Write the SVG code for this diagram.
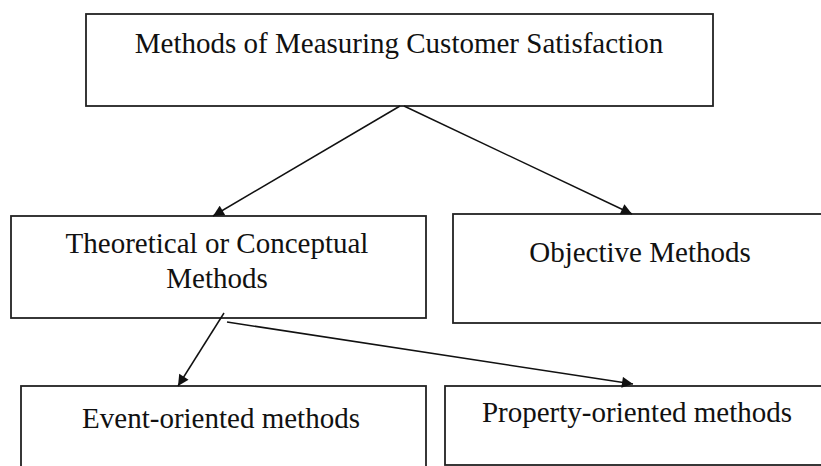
<svg xmlns="http://www.w3.org/2000/svg" width="821" height="466" viewBox="0 0 821 466">
<style>
.box{fill:#fff;stroke:#222;stroke-width:1.8}
.t{font-family:"Liberation Serif","Times New Roman",serif;font-size:29px;fill:#111;text-anchor:middle}
.c{stroke:#111;stroke-width:1.5;fill:none;marker-end:url(#ah)}
</style>
<defs>
<marker id="ah" viewBox="0 0 10 10" refX="10" refY="5" markerWidth="12" markerHeight="11" markerUnits="userSpaceOnUse" orient="auto">
<path d="M0,0 L10,5 L0,10 z" fill="#111"/>
</marker>
</defs>
<rect width="821" height="466" fill="#fff"/>
<g id="n-root">
<rect class="box" x="86" y="14" width="627" height="92"/>
<text class="t" x="399" y="53">Methods of Measuring Customer Satisfaction</text>
</g>
<g id="n-theoretical">
<rect class="box" x="11" y="216" width="415" height="102"/>
<text class="t" x="217" y="253">Theoretical or Conceptual</text>
<text class="t" x="217" y="288">Methods</text>
</g>
<g id="n-objective">
<rect class="box" x="453" y="214" width="380" height="109"/>
<text class="t" x="640" y="262">Objective Methods</text>
</g>
<g id="n-event">
<rect class="box" x="21" y="386" width="405" height="90"/>
<text class="t" x="221" y="428">Event-oriented methods</text>
</g>
<g id="n-property">
<rect class="box" x="445" y="386" width="390" height="79"/>
<text class="t" x="637" y="422">Property-oriented methods</text>
</g>
<g id="connectors">
<line class="c" x1="400" y1="106" x2="213" y2="216"/>
<line class="c" x1="404" y1="106" x2="632" y2="214"/>
<line class="c" x1="224" y1="313" x2="178" y2="386"/>
<line class="c" x1="227" y1="322" x2="633" y2="384"/>
</g>
</svg>
